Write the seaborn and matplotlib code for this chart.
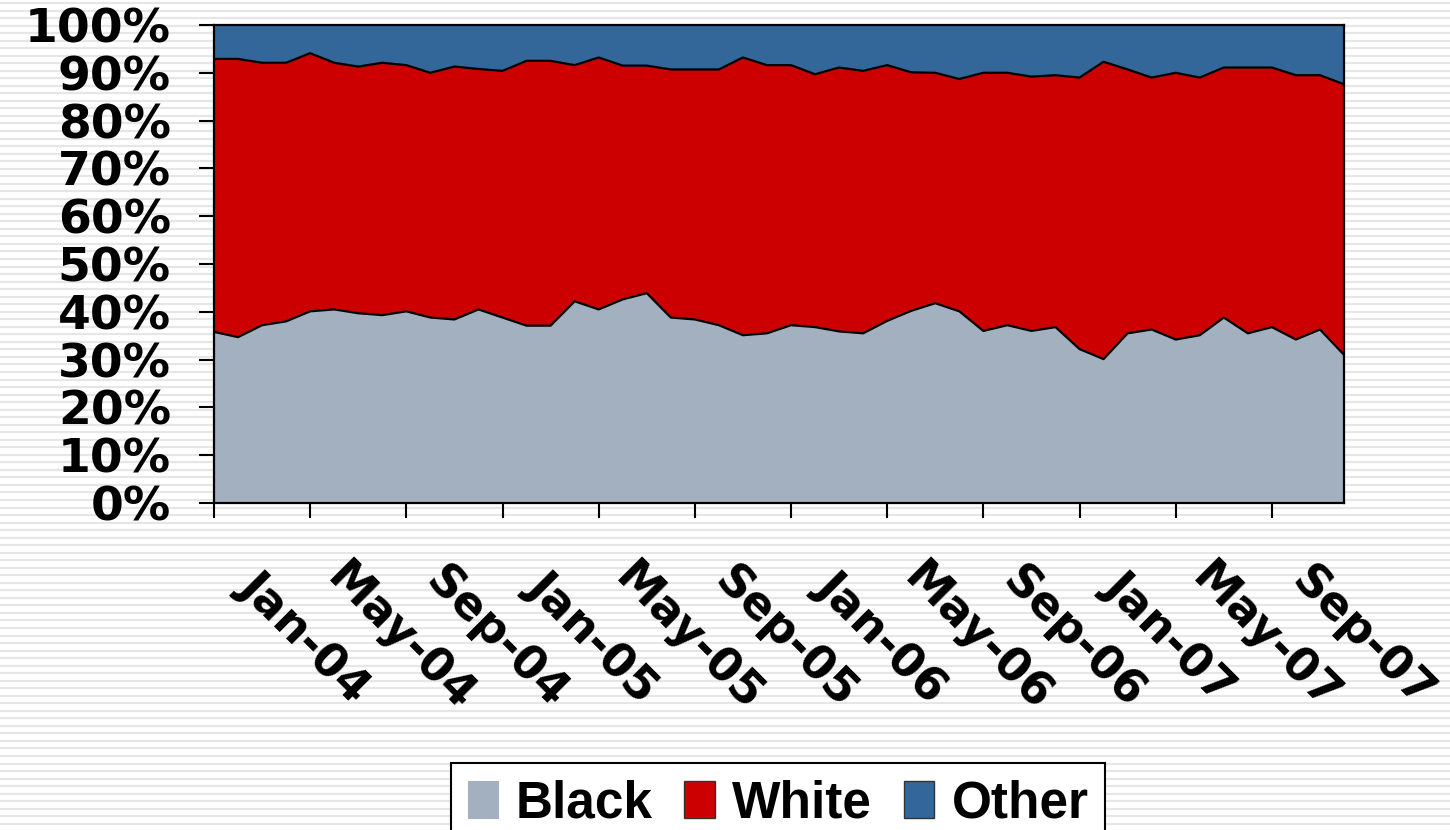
import numpy as np
import matplotlib
matplotlib.use("Agg")
import matplotlib.pyplot as plt
import matplotlib.transforms as mtransforms
from matplotlib.patches import Patch
import seaborn as sns

# ---------------- data (percent of total, monthly Jan-04 .. Dec-07) ----------------
series_names = ["Black", "White", "Other"]
tick_labels = ["Jan-04", "May-04", "Sep-04", "Jan-05", "May-05", "Sep-05",
               "Jan-06", "May-06", "Sep-06", "Jan-07", "May-07", "Sep-07"]
black = [35.8, 34.7, 37.2, 38.0, 40.1, 40.5, 39.7, 39.3, 40.1, 38.8, 38.4, 40.5,
         38.8, 37.1, 37.1, 42.2, 40.5, 42.6, 43.9, 38.8, 38.4, 37.2, 35.1, 35.5,
         37.2, 36.8, 35.9, 35.5, 38.1, 40.2, 41.8, 40.1, 36.0, 37.2, 36.0, 36.8,
         32.2, 30.1, 35.5, 36.3, 34.2, 35.1, 38.8, 35.5, 36.8, 34.2, 36.3, 31.0]
white = [57.1, 58.2, 54.9, 54.1, 54.0, 51.6, 51.6, 52.8, 51.5, 51.2, 52.9, 50.3,
         51.6, 55.4, 55.4, 49.4, 52.7, 48.9, 47.6, 51.9, 52.3, 53.5, 58.1, 56.1,
         54.4, 52.9, 55.2, 54.9, 53.5, 49.9, 48.2, 48.6, 54.0, 52.8, 53.2, 52.7,
         56.8, 62.2, 55.2, 52.7, 55.8, 53.9, 52.3, 55.6, 54.3, 55.3, 53.2, 56.6]
other = [7.1, 7.1, 7.9, 7.9, 5.9, 7.9, 8.7, 7.9, 8.4, 10.0, 8.7, 9.2,
         9.6, 7.5, 7.5, 8.4, 6.8, 8.5, 8.5, 9.3, 9.3, 9.3, 6.8, 8.4,
         8.4, 10.3, 8.9, 9.6, 8.4, 9.9, 10.0, 11.3, 10.0, 10.0, 10.8, 10.5,
         11.0, 7.7, 9.3, 11.0, 10.0, 11.0, 8.9, 8.9, 8.9, 10.5, 10.5, 12.4]
colors = ["#A2B0BF", "#CC0000", "#336699"]

# ---------------- style ----------------
sns.set_style("white")
plt.rcParams["font.family"] = ["DejaVu Sans"]
plt.rcParams["text.color"] = "black"
plt.rcParams["xtick.color"] = "black"
plt.rcParams["ytick.color"] = "black"
plt.rcParams["axes.labelcolor"] = "black"

W, H = 1450, 830
fig = plt.figure(figsize=(W / 100, H / 100), dpi=100)

# striped (lined paper) background
bg = fig.add_axes([0, 0, 1, 1], zorder=-10)
bg.set_xlim(0, 1)
bg.set_ylim(H, 0)
bg.hlines(np.arange(3.0, H, 7.53), 0, 1, color="#e6e6e6", lw=1.6)
bg.axis("off")

ax = fig.add_axes([214 / W, 1 - 503 / H, (1344 - 214) / W, (503 - 25) / H])
x = np.arange(len(black))
ax.stackplot(x, black, white, other, colors=colors, linewidth=0)
b = np.array(black)
bw = b + np.array(white)
sns.lineplot(x=x, y=b, color="black", lw=1.6, ax=ax)
sns.lineplot(x=x, y=bw, color="black", lw=1.6, ax=ax)

ax.set_xlim(0, len(black) - 1)
ax.set_ylim(0, 100)
for s in ax.spines.values():
    s.set_color("black")
    s.set_linewidth(1.6)

ax.set_yticks(np.arange(0, 101, 10))
ax.set_yticklabels([f"{v}%" for v in range(0, 101, 10)], fontsize=34, fontweight="bold")
ax.set_xticks(x[::4])
ax.set_xticklabels(tick_labels, rotation=-45, ha="center", va="center",
                   rotation_mode="anchor", fontsize=33, fontweight="bold")
ax.tick_params(axis="both", which="major", bottom=True, left=True, direction="out",
               length=11, width=1.5, color="black", labelcolor="black")
ax.tick_params(axis="y", pad=20)
ax.tick_params(axis="x", pad=0)
off = mtransforms.ScaledTranslation(0.90, -1.19, fig.dpi_scale_trans)
for lab in ax.get_xticklabels():
    lab.set_transform(lab.get_transform() + off)

handles = [Patch(facecolor=colors[0], edgecolor=colors[0], linewidth=0.8),
           Patch(facecolor=colors[1], edgecolor="#333333", linewidth=1.0),
           Patch(facecolor=colors[2], edgecolor="#333333", linewidth=1.0)]
leg = fig.legend(handles, series_names, loc="upper center",
                 bbox_to_anchor=(778 / W, 1 - 763 / H), ncol=3, frameon=True,
                 fancybox=False, edgecolor="black", framealpha=1,
                 prop={"family": "Liberation Sans", "weight": "bold", "size": 37},
                 handlelength=0.6, handleheight=0.75, handletextpad=0.33,
                 columnspacing=0.62, borderpad=0.32, borderaxespad=0)
leg.get_frame().set_linewidth(1.5)
for t in leg.get_texts():
    t.set_color("black")

fig.savefig("out.png", dpi=100)
